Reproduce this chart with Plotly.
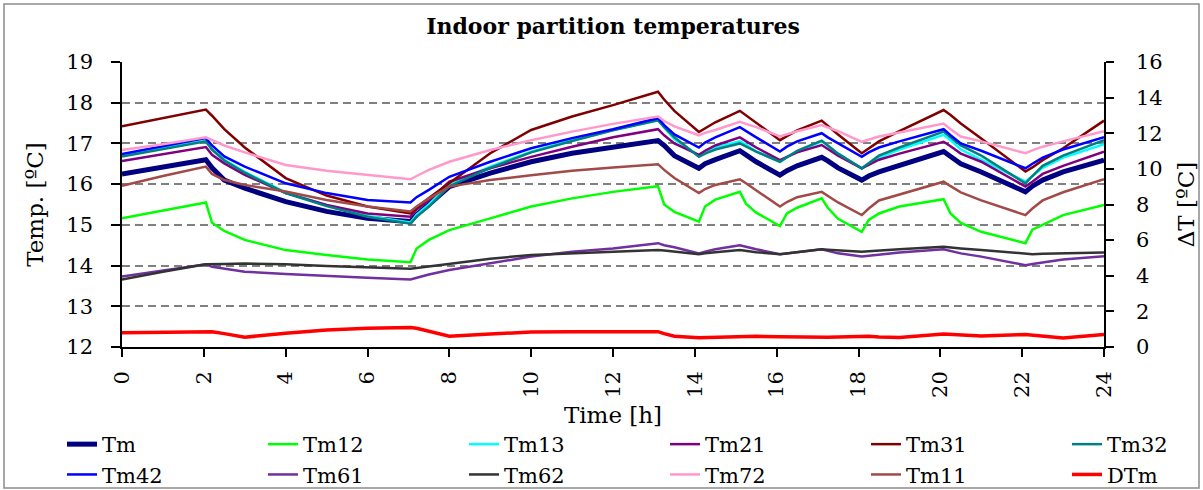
import plotly.graph_objects as go

# ---------------- data ----------------
time_h = [0, 1, 2.05, 2.2, 2.5, 3, 4, 5, 6, 7.05, 7.2, 7.5, 8, 9, 10, 11, 12, 13.1, 13.25, 13.5,
          14.1, 14.25, 14.5, 15.1, 15.25, 15.5, 16.08, 16.25, 16.5, 17.1, 17.25, 17.5, 18.08, 18.25,
          18.5, 19, 20.08, 20.25, 20.5, 21, 22.08, 22.25, 22.5, 23, 24]

Tm = [16.25, 16.43, 16.6, 16.4, 16.1, 15.9, 15.57, 15.33, 15.16, 15.08, 15.25, 15.5, 15.94, 16.27,
      16.55, 16.76, 16.92, 17.07, 16.95, 16.7, 16.39, 16.5, 16.6, 16.82, 16.72, 16.55, 16.22, 16.33,
      16.45, 16.66, 16.57, 16.4, 16.1, 16.2, 16.3, 16.45, 16.8, 16.68, 16.5, 16.3, 15.81, 15.95, 16.1,
      16.3, 16.59]
Tm12 = [15.16, 15.35, 15.55, 15.05, 14.85, 14.63, 14.38, 14.26, 14.15, 14.08, 14.42, 14.63, 14.87,
        15.16, 15.45, 15.65, 15.81, 15.95, 15.5, 15.32, 15.08, 15.45, 15.62, 15.81, 15.52, 15.3, 14.97,
        15.28, 15.42, 15.65, 15.42, 15.15, 14.83, 15.12, 15.28, 15.45, 15.63, 15.28, 15.05, 14.83,
        14.55, 14.88, 15.0, 15.24, 15.49]
Tm13 = [16.7, 16.88, 17.07, 16.85, 16.6, 16.3, 15.8, 15.48, 15.22, 15.06, 15.25, 15.5, 16.0, 16.43,
        16.8, 17.08, 17.33, 17.57, 17.4, 17.1, 16.7, 16.8, 16.9, 17.05, 16.97, 16.8, 16.55, 16.67, 16.8,
        17.05, 16.95, 16.75, 16.38, 16.5, 16.65, 16.85, 17.21, 17.08, 16.85, 16.6, 16.06, 16.2, 16.4,
        16.65, 16.98]
Tm21 = [16.57, 16.74, 16.91, 16.72, 16.51, 16.23, 15.78, 15.49, 15.28, 15.2, 15.38, 15.6, 16.06,
        16.39, 16.67, 16.92, 17.15, 17.35, 17.2, 17.0, 16.72, 16.82, 16.95, 17.15, 17.05, 16.9, 16.59,
        16.67, 16.78, 16.96, 16.87, 16.7, 16.39, 16.48, 16.6, 16.75, 17.04, 16.93, 16.75, 16.55, 15.94,
        16.06, 16.25, 16.45, 16.8]
Tm31 = [17.42, 17.62, 17.83, 17.68, 17.35, 16.9, 16.15, 15.72, 15.45, 15.28, 15.42, 15.66, 16.02,
        16.76, 17.33, 17.66, 17.94, 18.27, 18.08, 17.8, 17.28, 17.37, 17.52, 17.8, 17.69, 17.5, 17.08,
        17.18, 17.32, 17.56, 17.43, 17.22, 16.76, 16.87, 17.05, 17.3, 17.82, 17.7, 17.49, 17.12, 16.31,
        16.41, 16.59, 16.88, 17.56]
Tm32 = [16.68, 16.86, 17.05, 16.85, 16.58, 16.28, 15.78, 15.46, 15.2, 15.03, 15.2, 15.45, 15.95,
        16.4, 16.78, 17.06, 17.32, 17.57, 17.4, 17.15, 16.67, 16.75, 16.85, 17.0, 16.93, 16.8, 16.55,
        16.66, 16.82, 17.07, 16.95, 16.75, 16.39, 16.52, 16.7, 16.9, 17.29, 17.15, 16.95, 16.7, 16.02,
        16.2, 16.45, 16.7, 17.08]
Tm42 = [16.74, 16.93, 17.13, 16.95, 16.68, 16.43, 16.02, 15.78, 15.61, 15.55, 15.68, 15.86, 16.18,
        16.55, 16.88, 17.13, 17.35, 17.62, 17.45, 17.22, 16.9, 17.02, 17.15, 17.4, 17.3, 17.15, 16.8,
        16.92, 17.05, 17.25, 17.15, 17.0, 16.67, 16.78, 16.9, 17.05, 17.35, 17.2, 17.0, 16.82, 16.39,
        16.5, 16.65, 16.85, 17.15]
Tm61 = [13.73, 13.88, 14.03, 13.97, 13.92, 13.85, 13.79, 13.74, 13.7, 13.66, 13.7, 13.78, 13.89,
        14.05, 14.22, 14.34, 14.42, 14.55, 14.5, 14.45, 14.3, 14.34, 14.4, 14.5, 14.46, 14.4, 14.28,
        14.3, 14.34, 14.4, 14.36, 14.3, 14.22, 14.24, 14.28, 14.32, 14.4, 14.36, 14.3, 14.22, 14.01,
        14.04, 14.08, 14.15, 14.23]
Tm62 = [13.66, 13.85, 14.03, 14.03, 14.04, 14.05, 14.03, 13.99, 13.96, 13.92, 13.94, 13.98, 14.05,
        14.17, 14.26, 14.3, 14.34, 14.38, 14.37, 14.34, 14.28, 14.3, 14.33, 14.38, 14.36, 14.33, 14.28,
        14.3, 14.34, 14.4, 14.39, 14.37, 14.34, 14.35, 14.37, 14.4, 14.46, 14.44, 14.42, 14.38, 14.28,
        14.28, 14.29, 14.3, 14.32]
Tm72 = [16.84, 16.98, 17.15, 17.08, 16.95, 16.78, 16.47, 16.33, 16.23, 16.12, 16.2, 16.35, 16.55,
        16.84, 17.08, 17.29, 17.48, 17.66, 17.55, 17.42, 17.2, 17.26, 17.33, 17.53, 17.48, 17.4, 17.17,
        17.23, 17.3, 17.45, 17.4, 17.3, 17.04, 17.1, 17.17, 17.27, 17.49, 17.35, 17.17, 17.05, 16.76,
        16.83, 16.92, 17.05, 17.3]
Tm11 = [15.96, 16.2, 16.43, 16.25, 16.1, 15.98, 15.82, 15.61, 15.45, 15.33, 15.45, 15.65, 15.94,
        16.1, 16.22, 16.33, 16.41, 16.49, 16.35, 16.15, 15.78, 15.88, 15.98, 16.12, 16.02, 15.85, 15.45,
        15.56, 15.68, 15.81, 15.72, 15.55, 15.24, 15.4, 15.6, 15.75, 16.06, 15.95, 15.8, 15.6, 15.24,
        15.4, 15.6, 15.8, 16.12]
DTm = [0.8, 0.83, 0.86, 0.85, 0.75, 0.55, 0.77, 0.95, 1.05, 1.1, 1.05, 0.9, 0.6, 0.73, 0.84, 0.86,
       0.86, 0.86, 0.75, 0.6, 0.52, 0.53, 0.58, 0.62, 0.61, 0.6, 0.58, 0.57, 0.56, 0.54, 0.55, 0.56,
       0.62, 0.6, 0.56, 0.54, 0.73, 0.71, 0.67, 0.62, 0.7, 0.67, 0.6, 0.5, 0.7]

series_names = ["Tm", "Tm12", "Tm13", "Tm21", "Tm31", "Tm32",
                "Tm42", "Tm61", "Tm62", "Tm72", "Tm11", "DTm"]
x_ticks = [0, 2, 4, 6, 8, 10, 12, 14, 16, 18, 20, 22, 24]

# ---------------- styling ----------------
series_values = [Tm, Tm12, Tm13, Tm21, Tm31, Tm32, Tm42, Tm61, Tm62, Tm72, Tm11, DTm]
colors = ["#000080", "#00FF00", "#00FFFF", "#800080", "#800000", "#008080",
          "#0000FF", "#7030A0", "#333333", "#FF99CC", "#A24A48", "#FF0000"]
widths = [5, 2.5, 2.5, 2.5, 2.5, 2.5, 2.5, 2.5, 2.5, 2.5, 2.5, 3.5]

FONT = "DejaVu Serif"

W, H = 1203, 490
L, R, T, B = 122, 99, 62, 143
pw, ph = W - L - R, H - T - B

def px_x(px):
    return (px - L) / pw

def px_y(py):
    return (H - B - py) / ph

# legend laid out as 6 columns x 2 rows (one small legend per column)
legend_ids = ["legend", "legend2", "legend3", "legend4", "legend5", "legend6"]
col_left_px = [62, 263, 464, 665, 866, 1067]

fig = go.Figure()
for i, (name, vals, col, w) in enumerate(zip(series_names, series_values, colors, widths)):
    fig.add_trace(go.Scatter(
        x=time_h, y=vals, name=name, mode="lines",
        line=dict(color=col, width=w),
        yaxis="y2" if name == "DTm" else "y",
        legend=legend_ids[i % 6],
    ))

legend_layout = {}
for lid, cx in zip(legend_ids, col_left_px):
    legend_layout[lid] = dict(
        orientation="v", x=px_x(cx), y=px_y(424), xanchor="left", yanchor="top",
        font=dict(family=FONT, size=21), bgcolor="rgba(0,0,0,0)",
        tracegroupgap=0, itemwidth=30, borderwidth=0)

fig.update_layout(
    width=W, height=H,
    margin=dict(l=L, r=R, t=T, b=B, autoexpand=False),
    paper_bgcolor="white", plot_bgcolor="white",
    font=dict(family=FONT, color="black", size=20),
    title=dict(text="<b>Indoor partition temperatures</b>", x=0.5, xref="paper",
               y=1 - 26 / H, yref="container", yanchor="middle", xanchor="center",
               font=dict(family=FONT, size=22, color="black")),
    xaxis=dict(range=[0, 24], tickvals=x_ticks, tickangle=-90, showgrid=False, zeroline=False,
               showline=True, linecolor="black", linewidth=1.5, ticks="outside", ticklen=8,
               tickcolor="black", tickwidth=1.5, ticklabelstandoff=6,
               tickfont=dict(family=FONT, size=21),
               title=dict(text="Time [h]", font=dict(family=FONT, size=23), standoff=10)),
    yaxis=dict(range=[12, 19], dtick=1, showgrid=True, gridcolor="#808080", gridwidth=2,
               griddash="8px,5px", zeroline=False, showline=True, linecolor="black",
               linewidth=1.5, ticks="outside", ticklen=9, tickcolor="black", tickwidth=1.5,
               ticklabelstandoff=14, tickfont=dict(family=FONT, size=21),
               title=dict(text="Temp. [ºC]", font=dict(family=FONT, size=23), standoff=16)),
    yaxis2=dict(range=[0, 16], dtick=2, overlaying="y", side="right", showgrid=False,
                zeroline=False, showline=True, linecolor="black", linewidth=1.5,
                ticks="outside", ticklen=8, tickcolor="black", tickwidth=1.5,
                ticklabelstandoff=18, tickfont=dict(family=FONT, size=21),
                title=dict(text="ΔT [ºC]", font=dict(family=FONT, size=23), standoff=16)),
    shapes=[dict(type="rect", xref="paper", yref="paper",
                 x0=px_x(4), x1=px_x(1199), y0=px_y(488), y1=px_y(4),
                 line=dict(color="#8c8c8c", width=1.5), layer="below")],
    **legend_layout,
)

fig.write_html("out.html")
